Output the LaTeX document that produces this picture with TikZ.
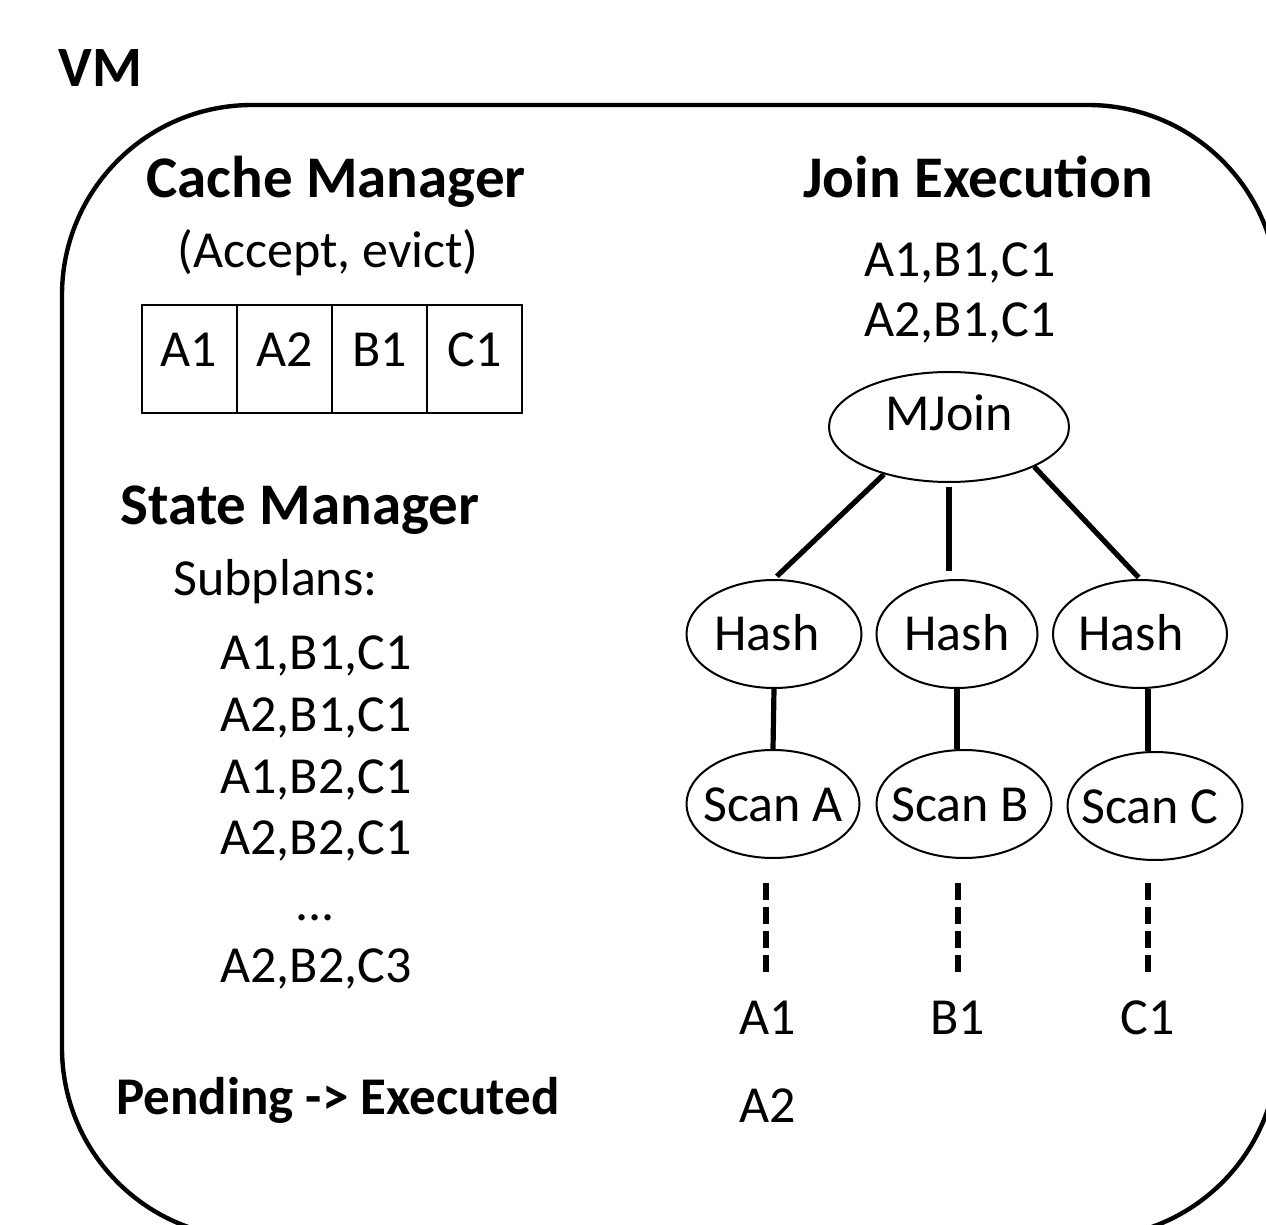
\documentclass[tikz,border=0pt]{standalone}
\usepackage{fontspec}
\setmainfont{Carlito}
\usetikzlibrary{shapes.geometric}
\newcommand{\zw}[2][0pt]{\makebox[0pt]{\hspace{#1}#2}}
\tikzset{
  x=0.5pt, y=-0.5pt,
  head/.style={font=\fontsize{29.5}{32}\selectfont\bfseries, inner sep=0pt},
  txt/.style={font=\fontsize{26}{30}\selectfont, inner sep=0pt},
  cell/.style={draw, line width=1pt, minimum width=47.5pt, minimum height=54pt, inner sep=0pt,
    font=\fontsize{26}{30}\selectfont, text height=17pt, text depth=9pt},
  opnode/.style={draw, ellipse, line width=1pt, inner sep=0pt, minimum height=54pt,
    font=\fontsize{26}{30}\selectfont, text height=17pt, text depth=0pt},
  conn/.style={line width=2.6pt},
  dashln/.style={line width=3pt, dash pattern=on 8.5pt off 3.5pt},
}
\begin{document}
\begin{tikzpicture}
\useasboundingbox (0,0) rectangle (1266,1225);
% outer VM box
\draw[line width=2.2pt, rounded corners=95pt] (62,105) rectangle (1278,1238);
\node[head, anchor=base west, font=\fontsize{28.5}{32}\selectfont\bfseries] (vm) at (58,87) {VM};

% Cache manager
\node[head, anchor=base] (cm) at (336,198) {Cache Manager};
\node[txt, anchor=base] (ae) at (328,268) {(Accept, evict)};
\node[cell] (c1) at (189,359) {A1};
\node[cell] (c2) at (284.5,359) {A2};
\node[cell] (c3) at (379.5,359) {B1};
\node[cell] (c4) at (474.5,359) {C1};

% State manager
\node[head, anchor=base] (sm) at (300,525) {State Manager};
\node[txt, anchor=base west] (sp) at (173,596) {Subplans:};
\node[txt, anchor=base west] (l1) at (220,670) {A1,B1,C1};
\node[txt, anchor=base west] (l2) at (220,732) {A2,B1,C1};
\node[txt, anchor=base west] (l3) at (220,793) {A1,B2,C1};
\node[txt, anchor=base west] (l4) at (220,855) {A2,B2,C1};
\node[txt, anchor=base] (l5) at (315,920) {...};
\node[txt, anchor=base west] (l6) at (220,982) {A2,B2,C3};
\node[head, anchor=base west, font=\fontsize{26.5}{30}\selectfont\bfseries] (pe) at (116,1114) {Pending -> Executed};

% Join execution
\node[head, anchor=base] (je) at (978,198) {Join Execution};
\node[txt, anchor=base] (r1) at (960,277) {A1,B1,C1};
\node[txt, anchor=base] (r2) at (960,337) {A2,B1,C1};

\node[opnode, minimum width=120pt, minimum height=55pt, text depth=13pt] (mj) at (949,427) {\zw{MJoin}};
\node[opnode, minimum width=87.5pt] (h1) at (774,634) {\zw[-7pt]{Hash}};
\node[opnode, minimum width=80.5pt] (h2) at (957,634) {\zw{Hash}};
\node[opnode, minimum width=87pt] (h3) at (1140,634) {\zw[-9pt]{Hash}};
\node[opnode, minimum width=86.5pt] (sa) at (773,804) {\zw{Scan A}};
\node[opnode, minimum width=87.5pt] (sb) at (964,804) {\zw[-4pt]{Scan B}};
\node[opnode, minimum width=87.5pt] (sc) at (1155,806) {\zw[-5pt]{Scan C}};

\draw[conn, shorten >=2pt] (mj.216) -- (h1.north);
\draw[conn, shorten <=2pt, shorten >=4pt] (mj.south) -- (mj.south |- h2.north);
\draw[conn, shorten >=1pt] (mj.335) -- (h3.north);
\draw[conn] (h1.south) -- (sa.north);
\draw[conn] (h2.south) -- (h2.south |- sb.north);
\draw[conn] ([xshift=4pt]h3.south) -- ([xshift=4pt]h3.south |- sc.north);

\coordinate (da1) at (766,883); \coordinate (da2) at (766,972);
\coordinate (db1) at (958,883); \coordinate (db2) at (958,972);
\coordinate (dc1) at (1148,883); \coordinate (dc2) at (1148,972);
\draw[dashln] (da1) -- (da2);
\draw[dashln] (db1) -- (db2);
\draw[dashln] (dc1) -- (dc2);

\node[txt, anchor=base] (ba1) at (768,1034) {A1};
\node[txt, anchor=base] (bb1) at (958,1034) {B1};
\node[txt, anchor=base] (bc1) at (1148,1034) {C1};
\node[txt, anchor=base] (ba2) at (768,1122) {A2};
\end{tikzpicture}
\end{document}
